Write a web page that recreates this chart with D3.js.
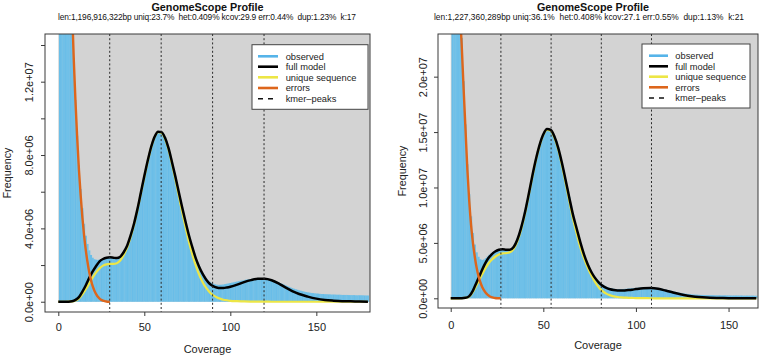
<!DOCTYPE html>
<html>
<head>
<meta charset="utf-8">
<script src="https://cdn.jsdelivr.net/npm/d3@7"></script>
<style>
  body { margin: 0; background: #fff; }
  svg { display: block; font-family: "Liberation Sans", Arial, Helvetica, sans-serif; }
</style>
</head>
<body>
<svg id="chart" width="760" height="357"></svg>
<script>
// ---- data (frequencies in millions of k-mers) ----

// left panel, k=17
const leftTitle = "GenomeScope Profile";
const leftSubtitle = "len:1,196,916,322bp uniq:23.7%  het:0.409% kcov:29.9 err:0.44%  dup:1.23%  k:17";
// observed histogram, coverage 1..180
const leftObserved = [
  480, 160, 72, 43, 30.5, 24, 19.6, 16.1, 13.3, 11.0,
  9.05, 7.45, 6.15, 5.1, 4.25, 3.6, 3.15, 2.8, 2.55, 2.4,
  2.32, 2.29, 2.28, 2.3, 2.33, 2.36, 2.4, 2.42, 2.43, 2.43,
  2.42, 2.4, 2.39, 2.39, 2.42, 2.48, 2.58, 2.72, 2.88, 3.06,
  3.3, 3.58, 3.9, 4.25, 4.63, 5.04, 5.48, 5.93, 6.38, 6.84,
  7.28, 7.7, 8.1, 8.45, 8.76, 9.0, 9.17, 9.27, 9.3, 9.25,
  9.13, 8.95, 8.7, 8.4, 8.05, 7.66, 7.26, 6.85, 6.43, 6.0,
  5.58, 5.16, 4.75, 4.36, 3.98, 3.62, 3.28, 2.96, 2.66, 2.39,
  2.14, 1.92, 1.72, 1.55, 1.4, 1.27, 1.17, 1.09, 1.03, 0.98,
  0.95, 0.93, 0.92, 0.92, 0.93, 0.94, 0.96, 0.98, 1.0, 1.02,
  1.04, 1.06, 1.08, 1.1, 1.12, 1.14, 1.16, 1.18, 1.2, 1.21,
  1.23, 1.24, 1.25, 1.26, 1.27, 1.27, 1.28, 1.28, 1.27, 1.27,
  1.26, 1.24, 1.22, 1.2, 1.17, 1.14, 1.1, 1.06, 1.02, 0.98,
  0.94, 0.9, 0.86, 0.82, 0.78, 0.74, 0.71, 0.68, 0.65, 0.62,
  0.6, 0.57, 0.55, 0.53, 0.51, 0.5, 0.48, 0.47, 0.46, 0.45,
  0.44, 0.43, 0.42, 0.42, 0.41, 0.41, 0.4, 0.4, 0.39, 0.39,
  0.39, 0.38, 0.38, 0.38, 0.37, 0.37, 0.37, 0.37, 0.36, 0.36,
  0.36, 0.36, 0.35, 0.35, 0.35, 0.35, 0.35, 0.34, 0.34, 0.34
];
const leftModelCov = [
  0, 4, 8,
  10, 12, 14, 16, 18, 20, 22, 24, 26, 28, 30, 32, 34, 36, 38, 40, 42, 44, 46, 48, 50,
  52, 54, 56, 58, 60, 62, 64, 66, 68, 70, 72, 74, 76, 78, 80, 82, 84, 86, 88, 90, 92, 94, 96, 98, 100,
  104, 108, 112, 116, 120, 124, 128, 132, 136, 140,
  145, 150, 155, 160, 165, 170, 175, 180
];
const leftFullModel = [
  0, 0, 0.03,
  0.1, 0.25, 0.55, 0.9, 1.3, 1.65, 1.95, 2.2, 2.33, 2.4, 2.42, 2.4, 2.38, 2.45, 2.7, 3.05, 3.6, 4.25, 5.05, 5.95, 6.85,
  7.7, 8.45, 9.0, 9.27, 9.25, 8.95, 8.4, 7.65, 6.85, 6.0, 5.15, 4.35, 3.6, 2.95, 2.35, 1.88, 1.5, 1.2, 0.98, 0.85, 0.78, 0.75, 0.75, 0.78, 0.82,
  0.93, 1.07, 1.18, 1.25, 1.25, 1.17, 1.0, 0.78, 0.58, 0.42,
  0.28, 0.17, 0.1, 0.06, 0.03, 0.02, 0.01, 0
];
const leftUnique = [
  0, 0, 0.02,
  0.07, 0.18, 0.4, 0.68, 1.0, 1.32, 1.6, 1.82, 1.97, 2.04, 2.06, 2.06, 2.1, 2.25, 2.55, 2.95, 3.52, 4.2, 5.0, 5.9, 6.8,
  7.66, 8.42, 8.98, 9.25, 9.22, 8.9, 8.32, 7.55, 6.7, 5.8, 4.9, 4.05, 3.25, 2.55, 1.95, 1.45, 1.05, 0.75, 0.52, 0.36, 0.25, 0.17, 0.11, 0.08, 0.05,
  0.03, 0.015, 0.008, 0.004, 0.002, 0, 0, 0, 0, 0,
  0, 0, 0, 0, 0, 0, 0, 0
];
// error k-mers, coverage 1..30
const leftErrors = [
  400, 150, 70, 42, 30, 23.5, 19.4, 16.0, 13.2, 10.9,
  8.9, 7.2, 5.8, 4.6, 3.6, 2.8, 2.15, 1.6, 1.18, 0.85,
  0.6, 0.41, 0.27, 0.17, 0.1, 0.06, 0.03, 0.01, 0, 0
];
const leftPeaks = [29.9, 59.8, 89.7, 119.6];
const leftXTicks = [0, 50, 100, 150];
const leftYTicks = [0, 2, 4, 6, 8, 10, 12, 14];
const leftYLabels = ["0.0e+00", "", "4.0e+06", "", "8.0e+06", "", "1.2e+07", ""];

// right panel, k=21
const rightTitle = "GenomeScope Profile";
const rightSubtitle = "len:1,227,360,289bp uniq:36.1%  het:0.408% kcov:27.1 err:0.55%  dup:1.13%  k:21";
// observed histogram, coverage 1..165
const rightObserved = [
  600, 200, 82, 44, 28.5, 23.5, 19.6, 15.7, 12.1, 9.4,
  7.4, 5.9, 4.85, 4.15, 3.75, 3.52, 3.45, 3.5, 3.62, 3.78,
  3.93, 4.06, 4.17, 4.26, 4.33, 4.38, 4.42, 4.43, 4.42, 4.4,
  4.38, 4.4, 4.5, 4.7, 5.0, 5.4, 5.9, 6.45, 7.05, 7.75,
  8.5, 9.3, 10.15, 11.0, 11.8, 12.55, 13.25, 13.85, 14.35, 14.8,
  15.1, 15.25, 15.28, 15.2, 15.0, 14.65, 14.2, 13.65, 13.0, 12.3,
  11.55, 10.75, 9.95, 9.15, 8.35, 7.6, 6.9, 6.25, 5.6, 5.0,
  4.45, 3.95, 3.5, 3.1, 2.75, 2.42, 2.14, 1.9, 1.7, 1.52,
  1.37, 1.24, 1.13, 1.05, 0.98, 0.93, 0.89, 0.86, 0.84, 0.83,
  0.83, 0.83, 0.84, 0.85, 0.86, 0.88, 0.89, 0.91, 0.92, 0.94,
  0.95, 0.96, 0.97, 0.98, 0.98, 0.99, 0.99, 0.99, 0.98, 0.97,
  0.95, 0.93, 0.9, 0.87, 0.83, 0.79, 0.75, 0.71, 0.67, 0.63,
  0.59, 0.55, 0.52, 0.49, 0.46, 0.43, 0.41, 0.39, 0.37, 0.35,
  0.34, 0.33, 0.32, 0.31, 0.3, 0.3, 0.29, 0.29, 0.28, 0.28,
  0.28, 0.27, 0.27, 0.27, 0.27, 0.26, 0.26, 0.26, 0.26, 0.26,
  0.25, 0.25, 0.25, 0.25, 0.25, 0.25, 0.25, 0.24, 0.24, 0.24,
  0.24, 0.24, 0.24, 0.23, 0.23
];
const rightModelCov = [
  0, 4, 8,
  10, 12, 14, 16, 18, 20, 22, 24, 26, 28, 30, 32, 34, 36, 38, 40, 42, 44, 46, 48, 50,
  52, 54, 56, 58, 60, 62, 64, 66, 68, 70, 72, 74, 76, 78, 80, 82, 84, 86, 88, 90, 92, 94, 96, 98, 100,
  104, 108, 112, 116, 120, 124, 128, 132, 136, 140,
  145, 150, 155, 160, 165
];
const rightFullModel = [
  0, 0, 0.05,
  0.2, 0.7, 1.45, 2.2, 2.95, 3.55, 3.95, 4.22, 4.38, 4.43, 4.38, 4.38, 4.62, 5.3, 6.35, 7.7, 9.3, 11.0, 12.55, 13.85, 14.8,
  15.28, 15.2, 14.6, 13.6, 12.25, 10.7, 9.1, 7.55, 6.3, 5.05, 3.95, 3.05, 2.35, 1.82, 1.42, 1.13, 0.94, 0.82, 0.75, 0.71, 0.7, 0.71, 0.74, 0.78, 0.83,
  0.91, 0.93, 0.86, 0.7, 0.52, 0.36, 0.24, 0.15, 0.09, 0.05,
  0.03, 0.015, 0.008, 0.004, 0
];
const rightUnique = [
  0, 0, 0.04,
  0.16, 0.58, 1.2, 1.85, 2.5, 3.05, 3.45, 3.75, 3.95, 4.05, 4.08, 4.15, 4.45, 5.15, 6.2, 7.58, 9.2, 10.9, 12.48, 13.78, 14.75,
  15.2, 15.12, 14.5, 13.45, 12.05, 10.45, 8.8, 7.2, 5.85, 4.6, 3.6, 2.75, 2.05, 1.45, 0.98, 0.65, 0.42, 0.28, 0.18, 0.12, 0.08, 0.06, 0.04, 0.03, 0.02,
  0.01, 0.005, 0, 0, 0, 0, 0, 0, 0, 0,
  0, 0, 0, 0, 0
];
// error k-mers, coverage 1..27
const rightErrors = [
  600, 200, 80, 42, 27, 22.6, 18.8, 15.2, 11.6, 8.8,
  6.6, 5.0, 3.75, 2.75, 2.0, 1.45, 1.03, 0.72, 0.48, 0.31,
  0.19, 0.11, 0.06, 0.03, 0.01, 0, 0
];
const rightPeaks = [27.1, 54.2, 81.3, 108.4];
const rightXTicks = [0, 50, 100, 150];
const rightYTicks = [0, 5, 10, 15, 20];
const rightYLabels = ["0.0e+00", "5.0e+06", "1.0e+07", "1.5e+07", "2.0e+07"];

const legendLabels = ["observed", "full model", "unique sequence", "errors", "kmer\u2013peaks"];

// ---- styles ----
const COLOR_BG = "#d3d3d3";
const COLOR_HIST = "#56B4E9";
const COLOR_HIST_FILL = "#6fc0e8";
const COLOR_FULL = "#000000";
const COLOR_UNIQUE = "#EDE645";
const COLOR_ERRORS = "#DD661C";
const COLOR_FRAME = "#3a3a3a";

const panels = [
  {
    title: leftTitle, subtitle: leftSubtitle,
    observed: leftObserved, modelCov: leftModelCov, full: leftFullModel, unique: leftUnique,
    errors: leftErrors, peaks: leftPeaks, xTicks: leftXTicks, yTicks: leftYTicks, yLabels: leftYLabels,
    box: { left: 45, right: 370, top: 34, bottom: 312 },
    xDomain: [-7.73, 181.2], yDomain: [-0.56, 14.6],
    titleX: 207.5, subX: 207, subW: 298, ylabX: 10.5, ytickOff: 12, xtickOff: 19, xlabY: 353,
    legend: { left: 252, right: 368, top: 44.7, bottom: 109.3, lineX0: 258, lineX1: 278, textX: 285.7,
              rows: [56.3, 66.7, 77.3, 88, 98.7] }
  },
  {
    title: rightTitle, subtitle: rightSubtitle,
    observed: rightObserved, modelCov: rightModelCov, full: rightFullModel, unique: rightUnique,
    errors: rightErrors, peaks: rightPeaks, xTicks: rightXTicks, yTicks: rightYTicks, yLabels: rightYLabels,
    box: { left: 438, right: 758, top: 34, bottom: 308 },
    xDomain: [-6.86, 165.9], yDomain: [-0.875, 23.85],
    titleX: 593, subX: 589, subW: 310, ylabX: 405.5, ytickOff: 11, xtickOff: 20.5, xlabY: 349,
    legend: { left: 642, right: 750, top: 44, bottom: 108, lineX0: 649, lineX1: 668, textX: 675.3,
              rows: [55.7, 66.3, 76.7, 87.3, 98] }
  }
];

const svg = d3.select("#chart");

panels.forEach(function (p, idx) {
  const b = p.box;
  const x = d3.scaleLinear().domain(p.xDomain).range([b.left, b.right]);
  const y = d3.scaleLinear().domain(p.yDomain).range([b.bottom, b.top]);

  const clipId = "clip" + idx;
  svg.append("clipPath").attr("id", clipId)
    .append("rect")
    .attr("x", b.left).attr("y", b.top)
    .attr("width", b.right - b.left).attr("height", b.bottom - b.top);

  const plot = svg.append("g").attr("clip-path", "url(#" + clipId + ")");

  // light grey backdrop from coverage 0 / frequency 0 upwards
  plot.append("rect")
    .attr("x", x(0)).attr("y", b.top)
    .attr("width", b.right - x(0)).attr("height", y(0) - b.top)
    .attr("fill", COLOR_BG);

  // observed histogram: one bar per coverage value, touching
  const step = x(1) - x(0);
  plot.append("g").selectAll("rect")
    .data(p.observed)
    .join("rect")
    .attr("x", (d, i) => x(i + 0.5) - 0.2)
    .attr("width", step + 0.4)
    .attr("y", d => y(d))
    .attr("height", d => y(0) - y(d))
    .attr("fill", COLOR_HIST_FILL);

  // faint stripes as in R's type="h" plot
  plot.append("g").selectAll("line")
    .data(p.observed.filter((d, i) => i % 3 === 0))
    .join("line")
    .attr("x1", (d, i) => x(i * 3 + 1)).attr("x2", (d, i) => x(i * 3 + 1))
    .attr("y1", d => y(d)).attr("y2", y(0))
    .attr("stroke", COLOR_HIST).attr("stroke-width", 0.6).attr("stroke-opacity", 0.4);

  const smooth = d3.line()
    .x(d => x(d[0]))
    .y(d => y(d[1]))
    .curve(d3.curveMonotoneX);

  plot.append("path")
    .datum(d3.zip(p.modelCov, p.unique))
    .attr("d", smooth)
    .attr("fill", "none").attr("stroke", COLOR_UNIQUE)
    .attr("stroke-width", 2.2).attr("stroke-linejoin", "round");

  plot.append("path")
    .datum(d3.zip(p.modelCov, p.full))
    .attr("d", smooth)
    .attr("fill", "none").attr("stroke", COLOR_FULL)
    .attr("stroke-width", 2.5).attr("stroke-linejoin", "round");

  plot.append("path")
    .datum(p.errors.map((v, i) => [i + 1, v]))
    .attr("d", smooth)
    .attr("fill", "none").attr("stroke", COLOR_ERRORS)
    .attr("stroke-width", 2.4).attr("stroke-linejoin", "round");

  // kmer peaks
  plot.selectAll("line.peak")
    .data(p.peaks)
    .join("line")
    .attr("class", "peak")
    .attr("x1", d => x(d)).attr("x2", d => x(d))
    .attr("y1", b.top).attr("y2", b.bottom)
    .attr("stroke", "#2a2a2a").attr("stroke-width", 1)
    .attr("stroke-dasharray", "2,2.2");

  // frame
  svg.append("rect")
    .attr("x", b.left).attr("y", b.top)
    .attr("width", b.right - b.left).attr("height", b.bottom - b.top)
    .attr("fill", "none").attr("stroke", COLOR_FRAME).attr("stroke-width", 1);

  // axes
  const xAxis = svg.append("g")
    .attr("transform", "translate(0," + b.bottom + ")")
    .call(d3.axisBottom(x).tickValues(p.xTicks).tickSize(4).tickSizeOuter(0).tickFormat(d3.format("d")));
  xAxis.select(".domain").remove();
  xAxis.selectAll("line").attr("stroke", COLOR_FRAME);
  xAxis.selectAll("text")
    .attr("y", p.xtickOff).attr("dy", 0)
    .attr("fill", "#222").style("font-size", "11px");

  const yAxis = svg.append("g")
    .attr("transform", "translate(" + b.left + ",0)")
    .call(d3.axisLeft(y).tickValues(p.yTicks).tickSize(4).tickSizeOuter(0)
      .tickFormat((d, i) => p.yLabels[i]));
  yAxis.select(".domain").remove();
  yAxis.selectAll("line").attr("stroke", COLOR_FRAME);
  yAxis.selectAll("text")
    .attr("x", 0).attr("y", -p.ytickOff).attr("dy", 0)
    .attr("transform", "rotate(-90)")
    .attr("text-anchor", "middle")
    .attr("fill", "#222").style("font-size", "11px");

  // titles
  svg.append("text")
    .attr("x", p.titleX).attr("y", 10.5)
    .attr("text-anchor", "middle")
    .style("font-size", "10.8px").style("font-weight", "bold")
    .attr("fill", "#111")
    .text(p.title);
  svg.append("text")
    .attr("x", p.subX).attr("y", 19.5)
    .attr("text-anchor", "middle")
    .attr("textLength", p.subW).attr("lengthAdjust", "spacing")
    .style("font-size", "8.4px").style("white-space", "pre")
    .attr("fill", "#111")
    .text(p.subtitle);

  // axis labels
  svg.append("text")
    .attr("x", (b.left + b.right) / 2).attr("y", p.xlabY)
    .attr("text-anchor", "middle")
    .style("font-size", "11px").attr("fill", "#222")
    .text("Coverage");
  svg.append("text")
    .attr("transform", "translate(" + p.ylabX + "," + (b.top + b.bottom) / 2 + ") rotate(-90)")
    .attr("text-anchor", "middle")
    .style("font-size", "10.8px").attr("fill", "#222")
    .text("Frequency");

  // legend
  const L = p.legend;
  const lg = svg.append("g");
  lg.append("rect")
    .attr("x", L.left).attr("y", L.top)
    .attr("width", L.right - L.left).attr("height", L.bottom - L.top)
    .attr("fill", "#fff").attr("stroke", "#444").attr("stroke-width", 1);
  const legendColors = [COLOR_HIST, COLOR_FULL, COLOR_UNIQUE, COLOR_ERRORS, "#111"];
  legendLabels.forEach(function (lab, i) {
    lg.append("line")
      .attr("x1", L.lineX0).attr("x2", L.lineX1)
      .attr("y1", L.rows[i]).attr("y2", L.rows[i])
      .attr("stroke", legendColors[i])
      .attr("stroke-width", i === 4 ? 1.4 : 2.6)
      .attr("stroke-dasharray", i === 4 ? "5,5" : null);
    lg.append("text")
      .attr("x", L.textX).attr("y", L.rows[i]).attr("dy", "0.35em")
      .style("font-size", "9.3px").attr("fill", "#222")
      .text(lab);
  });
});
</script>
</body>
</html>
